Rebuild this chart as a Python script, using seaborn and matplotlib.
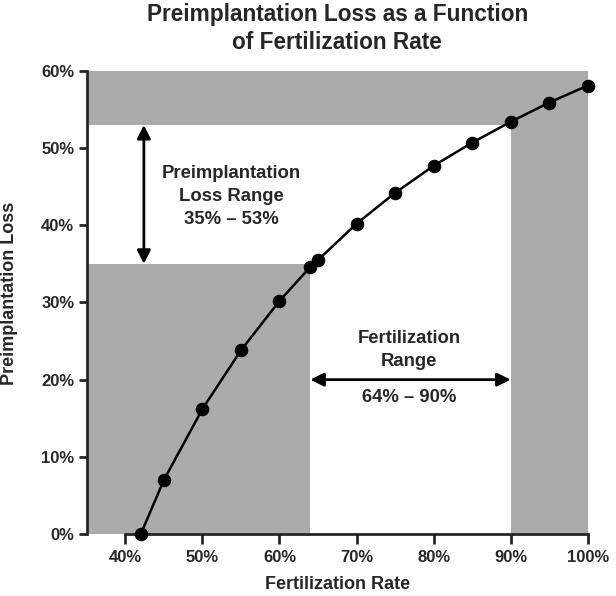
import matplotlib
matplotlib.use('Agg')
import matplotlib.pyplot as plt
import seaborn as sns
import pandas as pd
from matplotlib.ticker import FuncFormatter

# Fertilization rate (%) vs preimplantation loss (%)
fert_rate = [42, 45, 50, 55, 60, 64, 65, 70, 75, 80, 85, 90, 95, 100]
preimp_loss = [0, 7.0, 16.2, 23.8, 30.2, 34.6, 35.5, 40.2, 44.2, 47.7, 50.7, 53.4, 55.9, 58.1]

fert_range = [64, 90]
loss_range = [35, 53]
x_ticks = [40, 50, 60, 70, 80, 90, 100]
y_ticks = [0, 10, 20, 30, 40, 50, 60]

df = pd.DataFrame({'Fertilization Rate': fert_rate, 'Preimplantation Loss': preimp_loss})

sns.set_style('ticks')
plt.rcParams['font.family'] = ['Liberation Sans', 'DejaVu Sans']
plt.rcParams['font.weight'] = 'bold'

fig = plt.figure(figsize=(6.16, 5.96), dpi=100)
ax = fig.add_axes([0.141, 0.104, 0.813, 0.777])

gray = '#ababab'
# shaded regions
ax.fill_between([35, fert_range[0]], 0, loss_range[0], color=gray, lw=0, zorder=0)
ax.fill_between([35, 100], loss_range[1], 60, color=gray, lw=0, zorder=0)
ax.fill_between([fert_range[1], 100], 0, 60, color=gray, lw=0, zorder=0)

sns.lineplot(data=df, x='Fertilization Rate', y='Preimplantation Loss', color='black',
             marker='o', markersize=9, linewidth=1.8, markeredgecolor='black', ax=ax,
             zorder=3, clip_on=False)

ax.set_xlim(35, 100)
ax.set_ylim(0, 60)
ax.set_xticks(x_ticks)
ax.set_yticks(y_ticks)
pct = FuncFormatter(lambda v, p: f'{v:.0f}%')
ax.xaxis.set_major_formatter(pct)
ax.yaxis.set_major_formatter(pct)
ax.tick_params(labelsize=12, width=2, direction='out')
ax.tick_params(axis='x', length=7.5, pad=4)
ax.tick_params(axis='y', length=6, pad=3)
for lab in ax.get_xticklabels() + ax.get_yticklabels():
    lab.set_fontweight('bold')

sns.despine(ax=ax)
ax.spines['bottom'].set_bounds(40, 100)
ax.spines['left'].set_linewidth(2)
ax.spines['bottom'].set_linewidth(2)

ax.set_xlabel('Fertilization Rate', fontsize=13, fontweight='bold', labelpad=8)
ax.set_ylabel('Preimplantation Loss', fontsize=13, fontweight='bold')
ax.yaxis.set_label_coords(-0.138, 0.52)
ax.set_title('Preimplantation Loss as a Function\nof Fertilization Rate', fontsize=16.3,
             fontweight='bold', pad=16, linespacing=1.25)

# arrows
ax.annotate('', xy=(42.4, loss_range[1]), xytext=(42.4, loss_range[0]),
            arrowprops=dict(arrowstyle='<|-|>', color='black', lw=2, mutation_scale=20,
                            shrinkA=0, shrinkB=0))
ax.annotate('', xy=(fert_range[0], 20), xytext=(fert_range[1], 20),
            arrowprops=dict(arrowstyle='<|-|>', color='black', lw=2, mutation_scale=20,
                            shrinkA=0, shrinkB=0))

ax.text(53.7, 43.7, 'Preimplantation\nLoss Range\n35% – 53%', ha='center', va='center',
        fontsize=13.3, fontweight='bold', linespacing=1.45)
ax.text(76.8, 23.8, 'Fertilization\nRange', ha='center', va='center',
        fontsize=13.3, fontweight='bold', linespacing=1.45)
ax.text(76.8, 17.7, '64% – 90%', ha='center', va='center',
        fontsize=13.3, fontweight='bold')

fig.savefig('out.png', dpi=100)
